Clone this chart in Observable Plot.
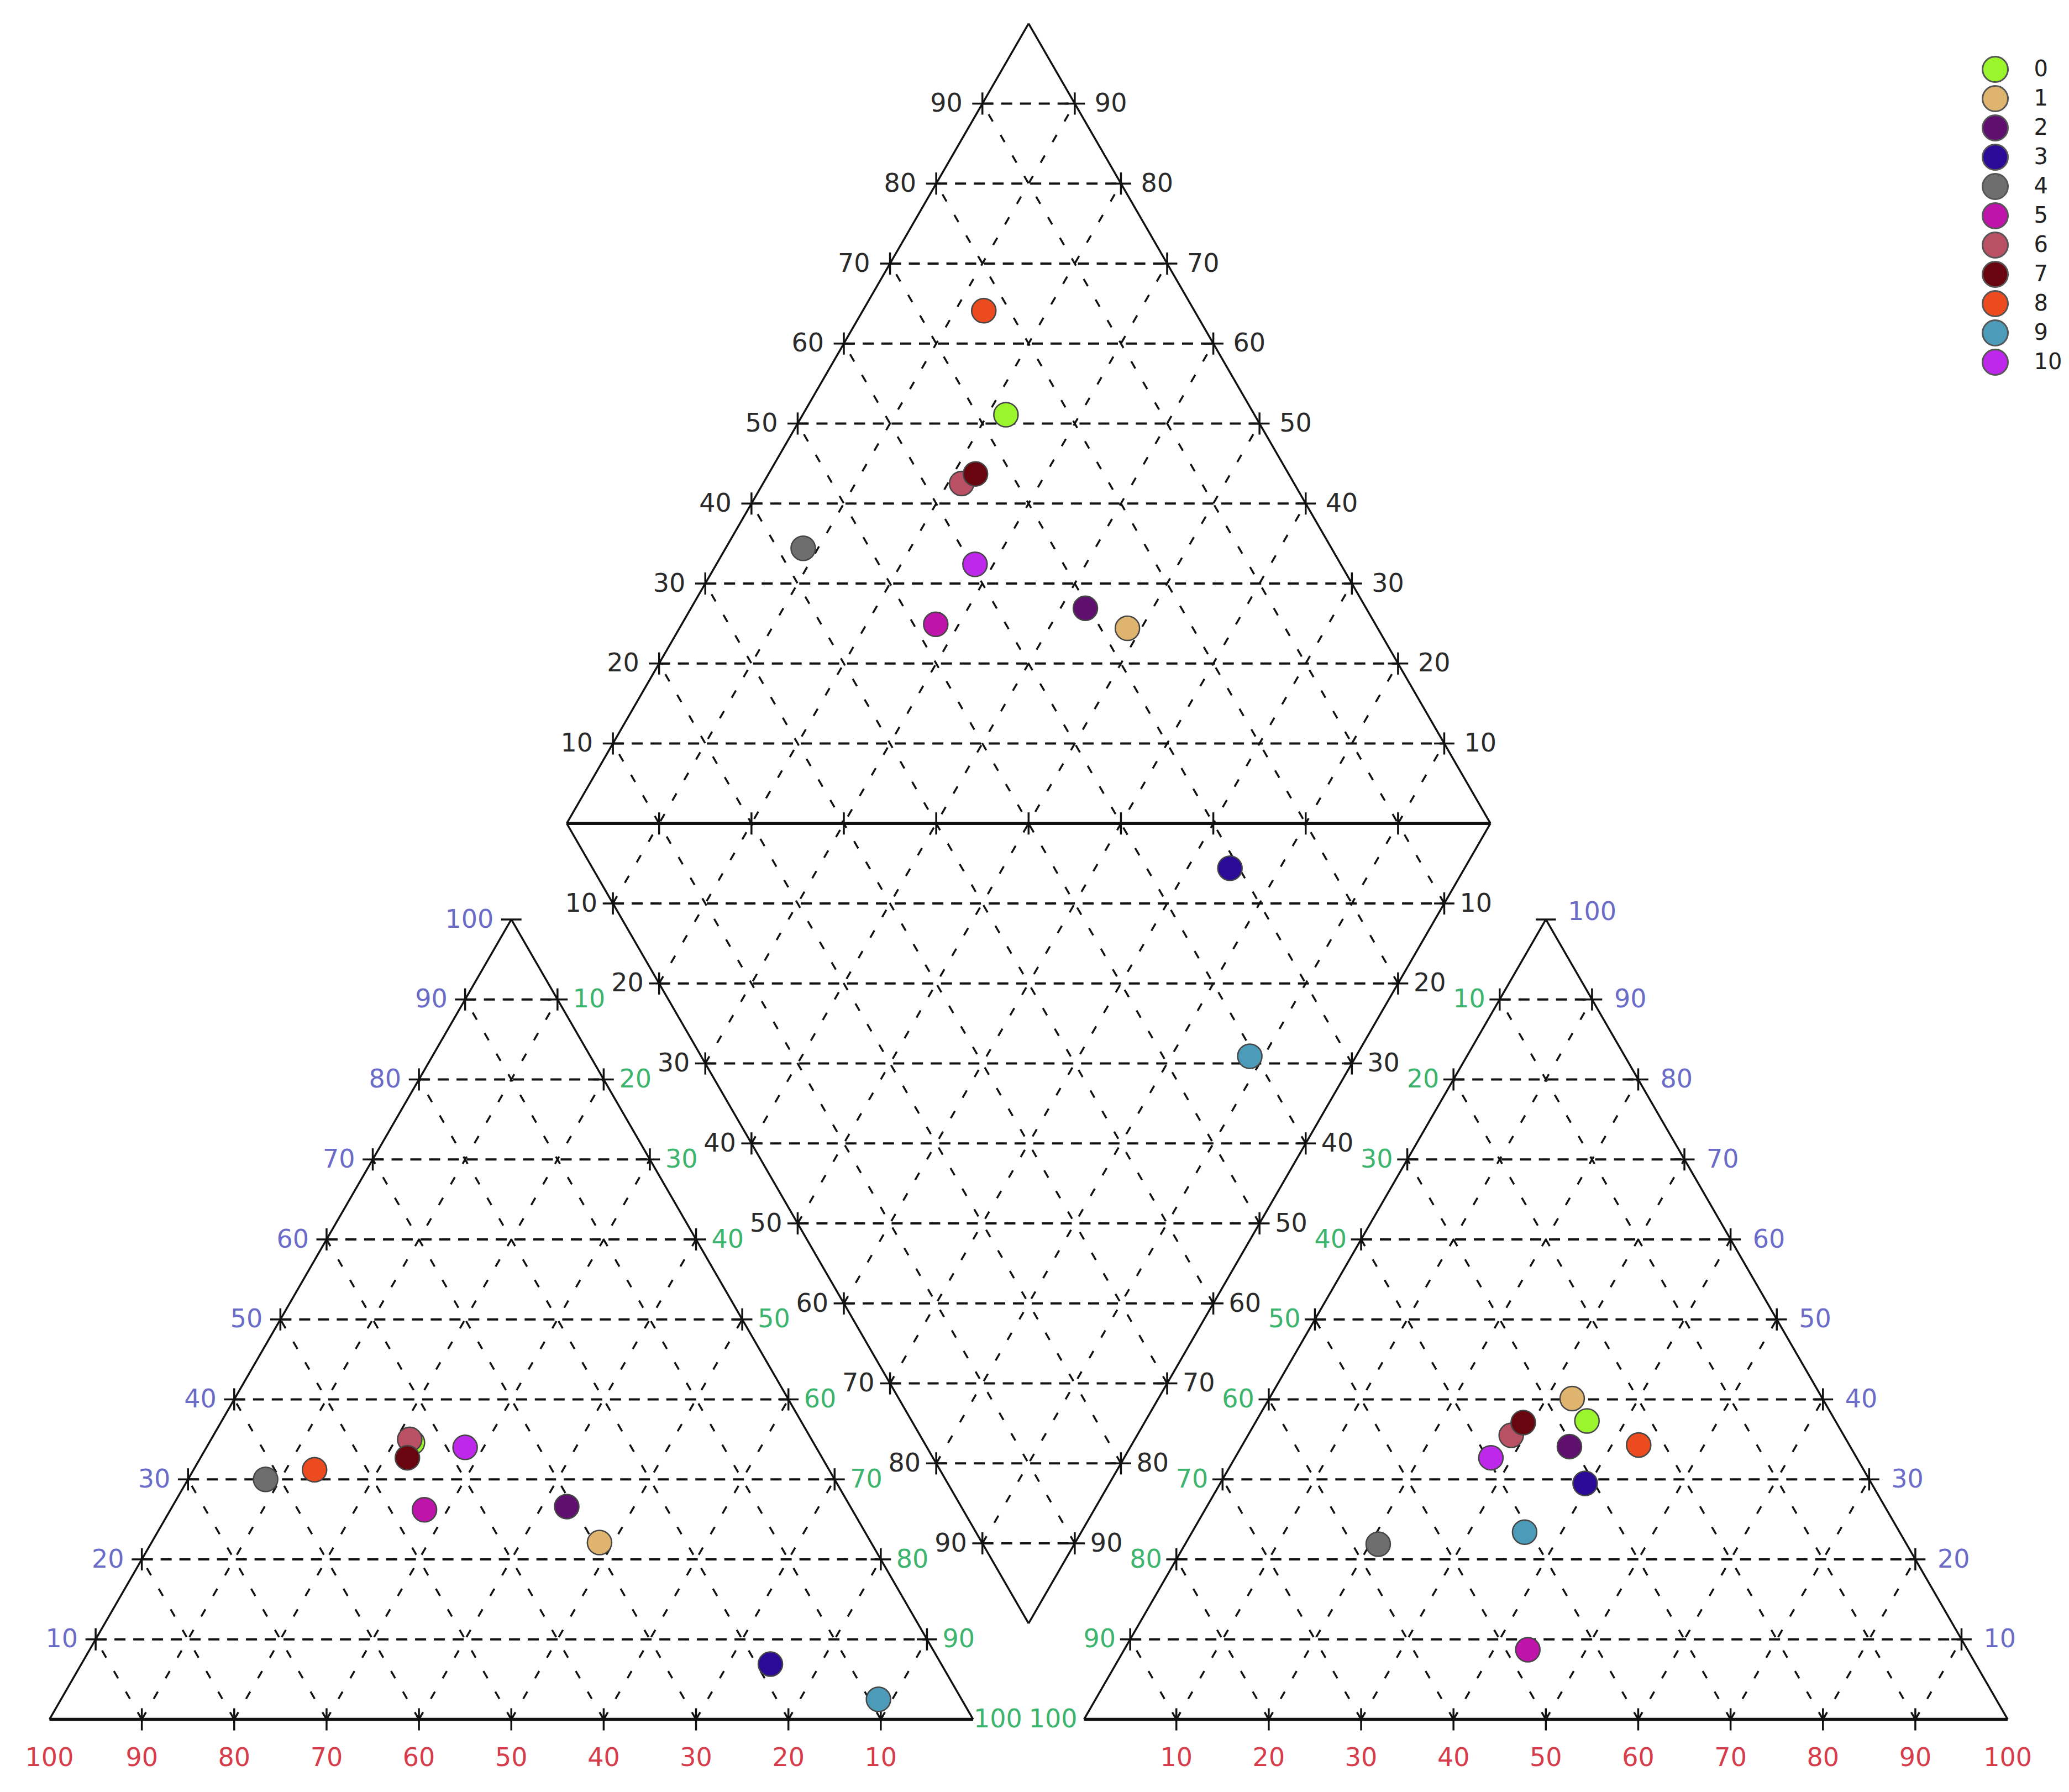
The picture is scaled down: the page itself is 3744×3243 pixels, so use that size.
<!DOCTYPE html>
<html><head><meta charset="utf-8">
<script src="https://cdn.jsdelivr.net/npm/d3@7"></script>
<script src="https://cdn.jsdelivr.net/npm/@observablehq/plot@0.6"></script>
<style>
html,body{margin:0;padding:0;background:#fff;}
#wrap{position:relative;width:3744px;height:3243px;overflow:hidden;}
#chart{position:absolute;left:0;top:0;}
#legend{position:absolute;left:3560px;top:60px;}
</style></head><body><div id="wrap"><div id="chart"></div><div id="legend"></div></div>
<script>
// ---- data ----
const samples = ["0","1","2","3","4","5","6","7","8","9","10"];
const colors  = ["#9bf52d","#deb46e","#5f0f6e","#2a0a96","#6e6e6e","#be14aa","#b95064","#69050f","#eb4b1e","#4b9bb9","#be28eb"];
// cations (%): Ca, Mg  (Na+K = 100 - Ca - Mg)
const ca  = [43.4, 29.4, 30.7, 18.5, 61.6, 46.3, 43.5, 44.9, 55.7, 9.0, 38.0];
const mg  = [34.6, 22.1, 26.6,  6.9, 30.0, 26.2, 35.0, 32.7, 31.2, 2.5, 34.0];
// anions (%): Cl, SO4  (HCO3+CO3 = 100 - Cl - SO4)
const cl  = [35.8, 32.8, 35.5, 39.5, 20.9, 43.7, 28.5, 29.0, 42.9, 36.0, 27.7];
const so4 = [37.3, 40.1, 34.1, 29.5, 21.9,  8.7, 35.5, 37.1, 34.3, 23.4, 32.7];
const gridLevels = [10,20,30,40,50,60,70,80,90];
const edgeLabels = [10,20,30,40,50,60,70,80,90,100];

// ---- geometry (units: triangle side = 100) ----
const H = Math.sqrt(3)/2, GAP = 12, AX = 100 + GAP;
const MY = (100 + GAP) * H;           // diamond middle line
const DL = (100 + GAP) / 2;            // diamond left vertex x
const BX = 100 + GAP / 2;              // diamond bottom x
const TOP = (200 + GAP) * H;
const cat = (c, m) => [(100 - c - m) + m / 2, m * H];
const ani = (l, s) => [AX + l + s / 2, s * H];
function dia(c, a) {
  const d = (a[1] - c[1]) / H, sum = 2 * (a[0] - c[0]);
  const s = (sum + d) / 2;
  return [c[0] + 0.5 * s, c[1] + H * s];
}
const pts = [];
samples.forEach((id, i) => {
  const c = cat(ca[i], mg[i]), a = ani(cl[i], so4[i]), d = dia(c, a);
  pts.push({id, x: c[0], y: c[1]}, {id, x: a[0], y: a[1]}, {id, x: d[0], y: d[1]});
});

// grid segments
const hLines = [], dLines = [], edges = [], thick = [];
for (const ox of [0, AX]) {
  for (const k of gridLevels) {
    hLines.push({x1: ox + k/2, y1: k*H, x2: ox + 100 - k/2, y2: k*H});
    dLines.push({x1: ox + k, y1: 0, x2: ox + k + (100-k)/2, y2: (100-k)*H});
    dLines.push({x1: ox + k, y1: 0, x2: ox + k/2, y2: k*H});
  }
  edges.push({x1: ox, y1: 0, x2: ox + 50, y2: 100*H}, {x1: ox + 100, y1: 0, x2: ox + 50, y2: 100*H});
  thick.push({x1: ox, y1: 0, x2: ox + 100, y2: 0});
}
const B = [BX, GAP*H], L = [DL, MY], R = [DL + 100, MY], T = [BX, TOP];
for (const k of gridLevels) {
  const f = k / 100;
  hLines.push({x1: DL + k/2, y1: MY + k*H, x2: DL + 100 - k/2, y2: MY + k*H});
  hLines.push({x1: DL + k/2, y1: MY - k*H, x2: DL + 100 - k/2, y2: MY - k*H});
  dLines.push({x1: B[0] + f*(L[0]-B[0]), y1: B[1] + f*(L[1]-B[1]), x2: R[0] + f*(T[0]-R[0]), y2: R[1] + f*(T[1]-R[1])});
  dLines.push({x1: B[0] + f*(R[0]-B[0]), y1: B[1] + f*(R[1]-B[1]), x2: L[0] + f*(T[0]-L[0]), y2: L[1] + f*(T[1]-L[1])});
}
edges.push({x1:B[0],y1:B[1],x2:L[0],y2:L[1]},{x1:L[0],y1:L[1],x2:T[0],y2:T[1]},
           {x1:B[0],y1:B[1],x2:R[0],y2:R[1]},{x1:R[0],y1:R[1],x2:T[0],y2:T[1]});
thick.push({x1: L[0], y1: L[1], x2: R[0], y2: R[1]});

// tick marks "+" at labelled edge points
const edgePts = [];
for (const ox of [0, AX]) for (const k of gridLevels) edgePts.push([ox + k/2, k*H], [ox + 100 - k/2, k*H]);
for (const k of gridLevels) edgePts.push([DL + k/2, MY + k*H], [DL + 100 - k/2, MY + k*H], [DL + k/2, MY - k*H], [DL + 100 - k/2, MY - k*H]);
const TH = 1.1, TV = 1.2;
const ticks = [];
for (const [x, y] of edgePts) ticks.push({x1: x - TH, y1: y, x2: x + TH, y2: y}, {x1: x, y1: y - TV, x2: x, y2: y + TV});
for (const ox of [0, AX]) {
  ticks.push({x1: ox + 50 - TH, y1: 100*H, x2: ox + 50 + TH, y2: 100*H});
  for (const k of gridLevels) ticks.push({x1: ox + k, y1: -TV, x2: ox + k, y2: TV});
}
for (const k of gridLevels) ticks.push({x1: DL + k, y1: MY - TV, x2: DL + k, y2: MY + TV});

const BLUE = "#6b6bc8", GREEN = "#3cb46e", RED = "#d73c4b", BLACK = "#2a2a2a";
const FS = 46, FONT = "DejaVu Sans";
const lab = (data, opts) => Plot.text(data, {fontSize: FS, fontFamily: FONT, ...opts});
const to100 = edgeLabels.filter(v => v < 100);

const chart = Plot.plot({
  width: 3744, height: 3243,
  x: {domain: [0, 200 + GAP], range: [89, 89 + (200 + GAP) * 16.715], axis: null},
  y: {domain: [0, TOP], range: [3111, 3111 - TOP * 16.715], axis: null},
  color: {domain: samples, range: colors},
  style: {fontFamily: FONT, background: "white", overflow: "visible"},
  marks: [
    Plot.link(hLines, {x1: "x1", y1: "y1", x2: "x2", y2: "y2", stroke: "#111", strokeWidth: 4, strokeDasharray: "20,14"}),
    Plot.link(dLines, {x1: "x1", y1: "y1", x2: "x2", y2: "y2", stroke: "#111", strokeWidth: 3.5, strokeDasharray: "15,28"}),
    Plot.link(edges, {x1: "x1", y1: "y1", x2: "x2", y2: "y2", stroke: "#111", strokeWidth: 3.5}),
    Plot.link(thick, {x1: "x1", y1: "y1", x2: "x2", y2: "y2", stroke: "#111", strokeWidth: 5.5}),
    Plot.link(ticks, {x1: "x1", y1: "y1", x2: "x2", y2: "y2", stroke: "#111", strokeWidth: 3.5}),
    // left triangle (cations)
    lab(edgeLabels, {x: v => v/2, y: v => v*H, text: d => d, fill: BLUE, textAnchor: "end", dx: -32}),
    lab(to100, {x: v => 50 + v/2, y: v => (100 - v)*H, text: d => d, fill: GREEN, textAnchor: "start", dx: 28}),
    lab([100], {x: 100, y: 0, text: d => d, fill: GREEN, textAnchor: "start", dx: 1}),
    lab(edgeLabels, {x: v => 100 - v, y: 0, text: d => d, fill: RED, dy: 70}),
    // right triangle (anions)
    lab(to100, {x: v => AX + (100 - v)/2, y: v => (100 - v)*H, text: d => d, fill: GREEN, textAnchor: "end", dx: -26}),
    lab([100], {x: AX, y: 0, text: d => d, fill: GREEN, textAnchor: "end", dx: -12}),
    lab(to100, {x: v => AX + 100 - v/2, y: v => v*H, text: d => d, fill: BLUE, textAnchor: "start", dx: 40}),
    lab([100], {x: AX + 50, y: 100*H, text: d => d, fill: BLUE, textAnchor: "start", dx: 40, dy: -14}),
    lab(edgeLabels, {x: v => AX + v, y: 0, text: d => d, fill: RED, dy: 70}),
    // diamond
    lab(gridLevels, {x: v => DL + v/2, y: v => MY + v*H, text: d => d, fill: BLACK, textAnchor: "end", dx: -36}),
    lab(gridLevels, {x: v => DL + 100 - v/2, y: v => MY + v*H, text: d => d, fill: BLACK, textAnchor: "start", dx: 36}),
    lab(gridLevels, {x: v => DL + v/2, y: v => MY - v*H, text: d => d, fill: BLACK, textAnchor: "end", dx: -28}),
    lab(gridLevels, {x: v => DL + 100 - v/2, y: v => MY - v*H, text: d => d, fill: BLACK, textAnchor: "start", dx: 28}),
    // samples
    Plot.dot(pts, {x: "x", y: "y", fill: "id", r: 22, stroke: "#454545", strokeWidth: 2.5})
  ]
});
document.getElementById("chart").appendChild(chart);

const legend = Plot.plot({
  width: 184, height: 680,
  x: {domain: [0, 1], range: [50, 120], axis: null},
  y: {type: "point", domain: samples, range: [36, 623], axis: null},
  color: {domain: samples, range: colors},
  style: {fontFamily: FONT, background: "white", overflow: "visible"},
  marks: [
    Plot.dot(samples, {x: 0, y: d => d, fill: d => d, r: 23, stroke: "#555", strokeWidth: 3}),
    Plot.text(samples, {x: 1, y: d => d, text: d => d, textAnchor: "start", fontSize: 40, fontFamily: FONT, fill: "#222"})
  ]
});
document.getElementById("legend").appendChild(legend);
</script></body></html>
